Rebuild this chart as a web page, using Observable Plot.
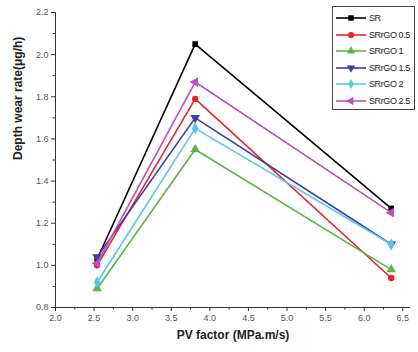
<!DOCTYPE html>
<html>
<head>
<meta charset="utf-8">
<script src="https://cdn.jsdelivr.net/npm/d3@7"></script>
<script src="https://cdn.jsdelivr.net/npm/@observablehq/plot@0.6"></script>
<style>
  html, body { margin: 0; padding: 0; background: #fff; }
  #wrap { position: relative; width: 418px; height: 352px; font-family: "Liberation Sans", Arial, sans-serif; }
  #legend { position: absolute; left: 332px; top: 6px; width: 83px; height: 104px; border: 1px solid #444; background: #fff; box-sizing: border-box; }
  .row { position: absolute; left: 2px; height: 14px; display: flex; align-items: center; font-size: 9px; color: #222; white-space: nowrap; letter-spacing: -0.4px; }
  .row svg { margin-right: 2px; flex: none; }
</style>
</head>
<body>
<div id="wrap"><div id="chart"></div><div id="legend"></div></div>
<script>
const pv = [2.54, 3.81, 6.35];
const seriesNames = ["SR", "SRrGO 0.5", "SRrGO 1", "SRrGO 1.5", "SRrGO 2", "SRrGO 2.5"];
const SR       = [1.03, 2.05, 1.27];
const SRrGO05  = [1.00, 1.79, 0.94];
const SRrGO1   = [0.89, 1.55, 0.98];
const SRrGO15  = [1.04, 1.70, 1.10];
const SRrGO2   = [0.92, 1.65, 1.10];
const SRrGO25  = [1.01, 1.87, 1.25];
const colors = ["#000000", "#e8232b", "#5ab648", "#3b3fa0", "#5cc6ea", "#c24fbf"];
const xTicks = [2.0, 2.5, 3.0, 3.5, 4.0, 4.5, 5.0, 5.5, 6.0, 6.5];
const yTicks = [0.8, 1.0, 1.2, 1.4, 1.6, 1.8, 2.0, 2.2];
const xMinor = [2.25, 2.75, 3.25, 3.75, 4.25, 4.75, 5.25, 5.75, 6.25];
const yMinor = [0.9, 1.1, 1.3, 1.5, 1.7, 1.9, 2.1];

const allValues = [SR, SRrGO05, SRrGO1, SRrGO15, SRrGO2, SRrGO25];

// custom symbols
const triDown = { draw(ctx, size) { const s = Math.sqrt(size / (Math.sqrt(3)/4)); const h = s*Math.sqrt(3)/2; ctx.moveTo(-s/2, -h/3); ctx.lineTo(s/2, -h/3); ctx.lineTo(0, 2*h/3); ctx.closePath(); } };
const triLeft = { draw(ctx, size) { const s = Math.sqrt(size / (Math.sqrt(3)/4)); const h = s*Math.sqrt(3)/2; ctx.moveTo(-2*h/3, 0); ctx.lineTo(h/3, -s/2); ctx.lineTo(h/3, s/2); ctx.closePath(); } };
const symbols = [d3.symbolSquare, d3.symbolCircle, d3.symbolTriangle, triDown, d3.symbolDiamond, triLeft];
const sizes = [3.2, 3.2, 3.6, 3.6, 3.6, 3.6];

const marks = [];
allValues.forEach((vals, i) => {
  const rows = pv.map((x, j) => ({x, y: vals[j]}));
  marks.push(Plot.line(rows, {x: "x", y: "y", stroke: colors[i], strokeWidth: 1.6}));
  marks.push(Plot.dot(rows, {x: "x", y: "y", fill: colors[i], stroke: "none", symbol: symbols[i], r: sizes[i]}));
});

const chart = Plot.plot({
  width: 418,
  height: 352,
  marginLeft: 55,
  marginRight: 8,
  marginTop: 12,
  marginBottom: 45,
  style: {fontFamily: "Liberation Sans, Arial, sans-serif", background: "#fff"},
  x: {domain: [2.0, 6.6]},
  y: {domain: [0.8, 2.2]},
  marks: [
    Plot.axisX({ticks: xTicks, tickSize: 4, tickFormat: d3.format(".1f"), fontSize: 9, fill: "#555", stroke: "#333", tickPadding: 3, label: null}),
    Plot.axisX({ticks: xMinor, tickSize: 2.5, tickFormat: () => "", stroke: "#333", label: null}),
    Plot.axisY({ticks: yTicks, tickSize: 4, tickFormat: d3.format(".1f"), fontSize: 9, fill: "#555", stroke: "#333", tickPadding: 3, label: null}),
    Plot.axisY({ticks: yMinor, tickSize: 2.5, tickFormat: () => "", stroke: "#333", label: null}),
    Plot.ruleY([yTicks[0]], {stroke: "#333", strokeWidth: 1}),
    Plot.ruleX([xTicks[0]], {stroke: "#333", strokeWidth: 1}),
    ...marks,
    Plot.text(["Depth wear rate(μg/h)"], {frameAnchor: "left", dx: -37, rotate: -90, fontSize: 12, fontWeight: "bold", fill: "#222"}),
    Plot.text(["PV factor (MPa.m/s)"], {frameAnchor: "bottom", dy: 31, fontSize: 12, fontWeight: "bold", fill: "#222"})
  ]
});
document.getElementById("chart").appendChild(chart);

// legend
const legend = document.getElementById("legend");
seriesNames.forEach((name, i) => {
  const row = document.createElement("div");
  row.className = "row";
  row.style.top = (4 + i * 16.6) + "px";
  const svg = d3.create("svg").attr("width", 32).attr("height", 12);
  svg.append("line").attr("x1", 1).attr("x2", 31).attr("y1", 6).attr("y2", 6).attr("stroke", colors[i]).attr("stroke-width", 1.6);
  svg.append("path").attr("transform", "translate(16,6)").attr("fill", colors[i]).attr("d", d3.symbol(symbols[i], 30)());
  row.appendChild(svg.node());
  const t = document.createElement("span");
  t.textContent = name;
  row.appendChild(t);
  legend.appendChild(row);
});
</script>
</body>
</html>
